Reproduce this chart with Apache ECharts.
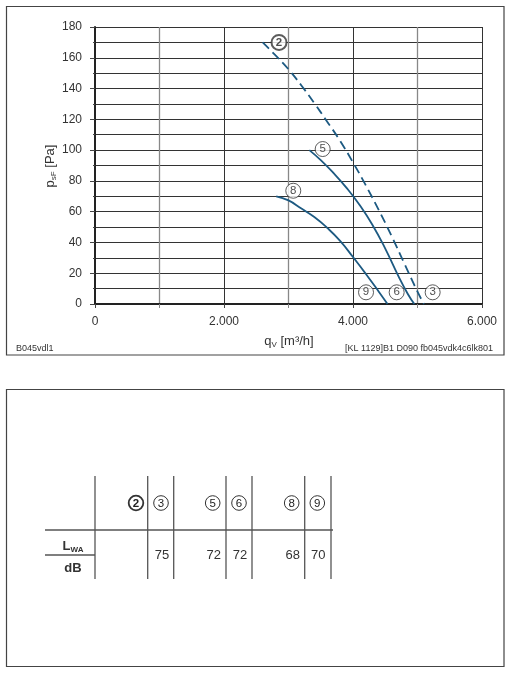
<!DOCTYPE html>
<html><head><meta charset="utf-8">
<script src="https://cdn.jsdelivr.net/npm/echarts@6/dist/echarts.min.js"></script>
<style>html,body{margin:0;padding:0;background:#fff}#c{width:510px;height:680px}</style>
</head><body><div id="c"></div>
<script>
// ---- data ----
const xMin = 0, xMax = 6000, xStep = 2000;
const yMin = 0, yMax = 180, yStep = 20;

const curve2Q = [2600, 2800, 3000, 3200, 3400, 3600, 3800, 4000, 4200, 4400, 4600, 4800, 5000, 5100];
const curve2P = [170, 161.5, 152.5, 142, 130.5, 118.5, 106, 92, 77, 61, 44, 26, 8, 0];

const curve5Q = [3323, 3500, 3700, 3900, 4100, 4300, 4500, 4700, 4850, 4951];
const curve5P = [100, 93.5, 85, 75.5, 64.5, 51.5, 36, 18.5, 6.5, 0];

const curve8Q = [2810, 3000, 3200, 3400, 3600, 3800, 4000, 4200, 4400, 4535];
const curve8P = [70, 67.3, 62, 56.5, 49.5, 41, 30.5, 19.5, 8, 0];

const markIds = ['2', '5', '8', '9', '6', '3'];
const markQ = [2853, 3530, 3074, 4202, 4677, 5235];
const markP = [170, 100.7, 73.6, 7.6, 7.6, 7.6];

const tableIds = ['2', '3', '5', '6', '8', '9'];
const tableLwa = ['', '75', '72', '72', '68', '70'];

const footLeft = 'B045vdl1';
const footRight = '[KL 1129]B1 D090 fb045vdk4c6lk801';

// ---- layout ----
const FONT = 'Liberation Sans, Arial, sans-serif';
const curveColor = '#1d5a82';
const zip = (a, b) => a.map((v, i) => [v, b[i]]);
const fmtThousands = v => String(v).replace(/\B(?=(\d{3})+(?!\d))/g, '.');

const tableColX = [95, 147.7, 173.7, 226, 252, 304.7, 331];
const tableHeadX = [136, 161, 212.7, 239, 291.7, 317.3];

const chart = echarts.init(document.getElementById('c'), null, {renderer: 'canvas'});

const graphics = [];
// frames
graphics.push({type: 'rect', shape: {x: 6.5, y: 6.5, width: 497.5, height: 348.5}, style: {fill: 'none', stroke: '#444', lineWidth: 1.2}, silent: true});
graphics.push({type: 'rect', shape: {x: 6.5, y: 389.5, width: 497.5, height: 277}, style: {fill: 'none', stroke: '#444', lineWidth: 1.2}, silent: true});
// axis names
graphics.push({type: 'text', x: 50, y: 166, rotation: Math.PI / 2,
  style: {text: '{a|p}{s|sF}{a| [Pa]}', align: 'center', verticalAlign: 'middle', fill: '#333',
    rich: {a: {fontSize: 13, fontFamily: FONT, lineHeight: 16, verticalAlign: 'middle', fill: '#333'},
           s: {fontSize: 8, fontFamily: FONT, verticalAlign: 'bottom', fill: '#333'}}}});
graphics.push({type: 'text', x: 289, y: 341,
  style: {text: '{a|q}{s|V}{a| [m³/h]}', align: 'center', verticalAlign: 'middle', fill: '#333',
    rich: {a: {fontSize: 13, fontFamily: FONT, lineHeight: 16, verticalAlign: 'middle', fill: '#333'},
           s: {fontSize: 8, fontFamily: FONT, verticalAlign: 'bottom', fill: '#333'}}}});
// footers
graphics.push({type: 'text', x: 16, y: 349, style: {text: footLeft, fontSize: 9, fontFamily: FONT, fill: '#333', align: 'left', verticalAlign: 'middle'}});
graphics.push({type: 'text', x: 493, y: 349, style: {text: footRight, fontSize: 9, fontFamily: FONT, fill: '#333', align: 'right', verticalAlign: 'middle'}});
// table lines
tableColX.forEach(x => graphics.push({type: 'line', shape: {x1: x, y1: 476, x2: x, y2: 579}, style: {stroke: '#555', lineWidth: 1.3}, silent: true}));
graphics.push({type: 'line', shape: {x1: 45, y1: 530, x2: 333, y2: 530}, style: {stroke: '#555', lineWidth: 1.3}});
graphics.push({type: 'line', shape: {x1: 45, y1: 555, x2: 95, y2: 555}, style: {stroke: '#555', lineWidth: 1.3}});
// table heads
tableIds.forEach((id, i) => {
  const bold = id === '2';
  graphics.push({type: 'circle', shape: {cx: tableHeadX[i], cy: 503, r: 7.3}, style: {fill: '#fff', stroke: '#333', lineWidth: bold ? 1.8 : 1}});
  graphics.push({type: 'text', x: tableHeadX[i], y: 503.5, style: {text: id, fontSize: 11.5, fontWeight: bold ? 'bold' : 'normal', fontFamily: FONT, fill: '#222', align: 'center', verticalAlign: 'middle'}});
  if (tableLwa[i]) graphics.push({type: 'text', x: tableHeadX[i] + 1, y: 555, style: {text: tableLwa[i], fontSize: 13, fontFamily: FONT, fill: '#333', align: 'center', verticalAlign: 'middle'}});
});
graphics.push({type: 'text', x: 73, y: 546,
  style: {text: '{a|L}{s|WA}', align: 'center', verticalAlign: 'middle',
    rich: {a: {fontSize: 13, fontWeight: 'bold', fontFamily: FONT, lineHeight: 16, verticalAlign: 'middle', fill: '#333'},
           s: {fontSize: 8, fontWeight: 'bold', fontFamily: FONT, verticalAlign: 'bottom', fill: '#333'}}}});
graphics.push({type: 'text', x: 73, y: 568, style: {text: 'dB', fontSize: 13, fontWeight: 'bold', fontFamily: FONT, fill: '#333', align: 'center', verticalAlign: 'middle'}});

const lineBase = {type: 'line', smooth: 0.5, symbol: 'none', z: 3,
  lineStyle: {color: curveColor, width: 1.8}};

chart.setOption({
  animation: false,
  grid: {left: 95, top: 27, width: 387, height: 277, containLabel: false},
  xAxis: {type: 'value', min: xMin, max: xMax, interval: xStep,
    axisLine: {show: true, onZero: false, lineStyle: {color: '#222', width: 2}},
    axisTick: {show: true, length: 4, lineStyle: {color: '#444'}},
    minorTick: {show: true, splitNumber: 2, length: 4, lineStyle: {color: '#888'}},
    axisLabel: {margin: 12, fontSize: 12, fontFamily: FONT, color: '#333', formatter: v => fmtThousands(v)},
    splitLine: {show: true, lineStyle: {color: '#333', width: 1}},
    minorSplitLine: {show: true, lineStyle: {color: '#888', width: 1.3}}},
  yAxis: {type: 'value', min: yMin, max: yMax, interval: yStep,
    axisLine: {show: true, lineStyle: {color: '#222', width: 2}},
    axisTick: {show: true, length: 5, lineStyle: {color: '#444'}},
    minorTick: {show: true, splitNumber: 2, length: 2, lineStyle: {color: '#444'}},
    axisLabel: {margin: 13, fontSize: 12, fontFamily: FONT, color: '#333'},
    splitLine: {show: true, lineStyle: {color: '#333', width: 1}},
    minorSplitLine: {show: true, lineStyle: {color: '#333', width: 1}}},
  graphic: graphics,
  series: [
    Object.assign({}, lineBase, {data: zip(curve2Q, curve2P), lineStyle: {color: curveColor, width: 1.8, type: [9, 5]}}),
    Object.assign({}, lineBase, {data: zip(curve5Q, curve5P)}),
    Object.assign({}, lineBase, {data: zip(curve8Q, curve8P)}),
    {type: 'scatter', z: 5, symbol: 'circle', symbolSize: 15,
      data: markIds.map((id, i) => ({value: [markQ[i], markP[i], id],
        itemStyle: {color: '#fff', borderColor: '#333', borderWidth: id === '2' ? 2 : 1},
        label: {fontWeight: id === '2' ? 'bold' : 'normal'}})),
      label: {show: true, position: 'inside', formatter: p => p.data.value[2], fontSize: 11.5, fontFamily: FONT, color: '#222'}}
  ]
});
</script></body></html>
